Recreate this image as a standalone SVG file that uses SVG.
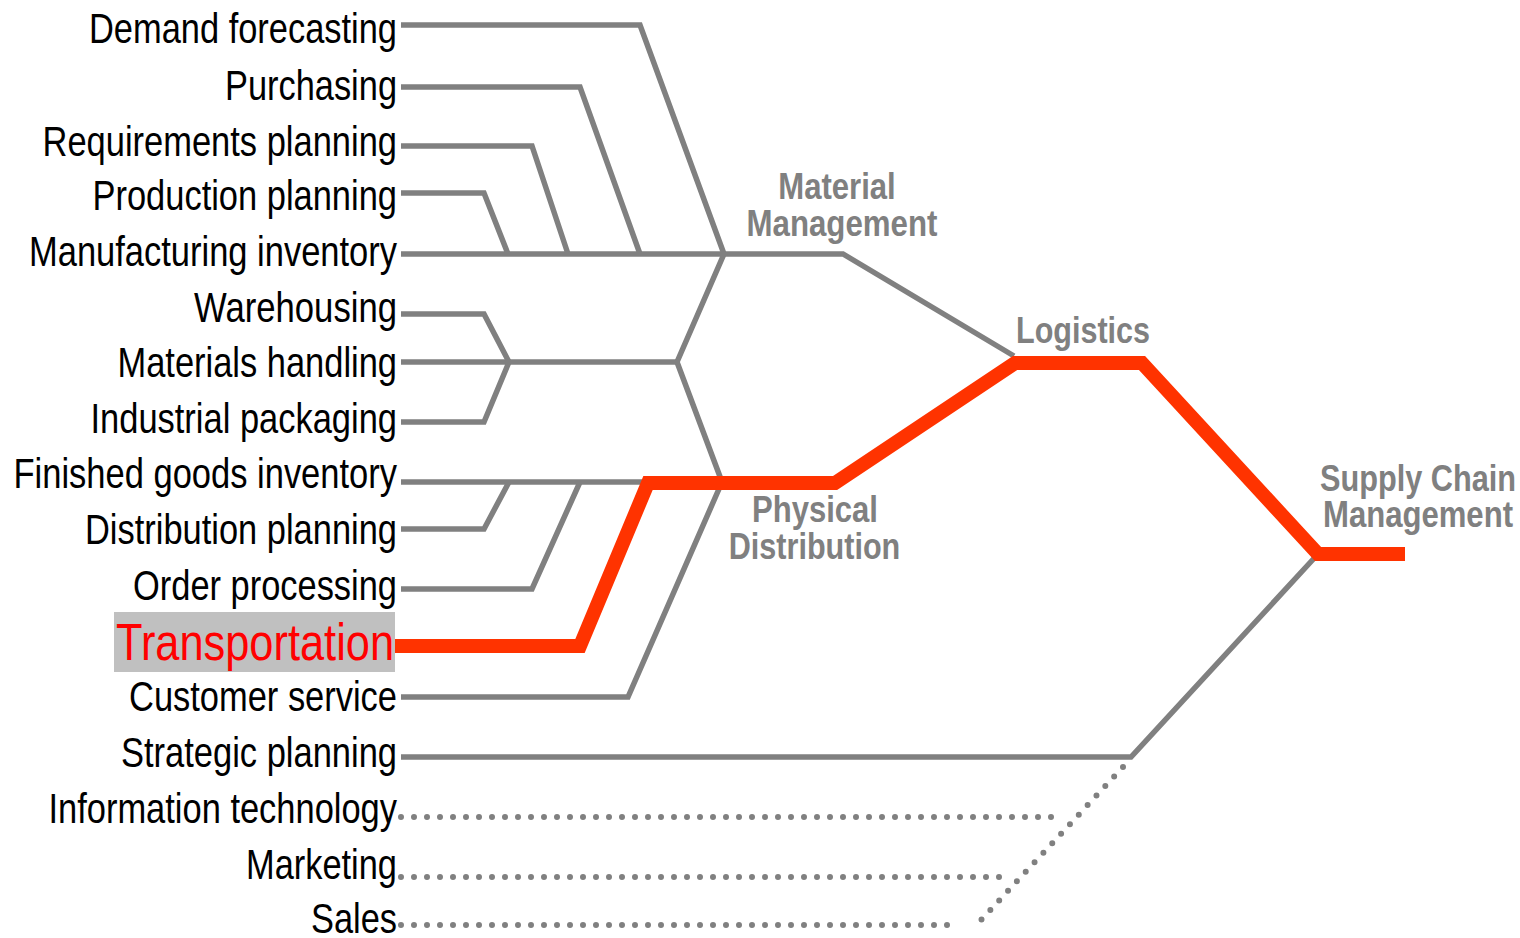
<svg xmlns="http://www.w3.org/2000/svg" width="1520" height="938" viewBox="0 0 1520 938">
<style>
.lbl{font-family:"Liberation Sans Narrow","Liberation Sans",Arial,sans-serif;font-size:42px;fill:#000;text-anchor:end}
.hl{font-size:52px;fill:#ff0000}
.mid{font-family:"Liberation Sans Narrow","Liberation Sans",Arial,sans-serif;font-size:37.5px;font-weight:bold;fill:#808080;text-anchor:middle}
.g{fill:none;stroke:#808080;stroke-width:5.5;stroke-linejoin:miter}
.d{fill:none;stroke:#808080;stroke-width:6;stroke-linecap:round;stroke-dasharray:0 13}
.r{fill:none;stroke:#ff3300;stroke-width:14;stroke-linejoin:miter}
</style>
<rect width="1520" height="938" fill="#fff"/>
<g id="connectors">
<path class="g" d="M401,25 H640 L724,254"/>
<path class="g" d="M401,87 H580 L640,254"/>
<path class="g" d="M401,146 H532 L568,254"/>
<path class="g" d="M401,193 H484 L508,254"/>
<path class="g" d="M401,254 H843 L1014,356"/>
<path class="g" d="M401,314 H484 L509,362"/>
<path class="g" d="M401,362 H677"/>
<path class="g" d="M401,422 H484 L509,362"/>
<path class="g" d="M724,254 L677,362 L722,482"/>
<path class="g" d="M401,482 H722"/>
<path class="g" d="M401,529 H484 L509,482"/>
<path class="g" d="M401,589 H532 L580,482"/>
<path class="g" d="M401,697 H628 L722,482"/>
<path class="g" d="M401,757 H1131 L1318,554"/>
<path class="d" d="M401,817 H1061"/>
<path class="d" d="M401,877 H1011"/>
<path class="d" d="M401,925 H958"/>
<path class="d" d="M1123,767 L981,920"/>
<path class="r" d="M395,646 H580 L648,483 H835 L1015,363 H1142 L1318,554 H1405"/>
</g>
<g id="demand-forecasting"><text class="lbl" x="397" y="43" textLength="308" lengthAdjust="spacingAndGlyphs">Demand forecasting</text></g>
<g id="purchasing"><text class="lbl" x="397" y="100" textLength="172" lengthAdjust="spacingAndGlyphs">Purchasing</text></g>
<g id="requirements-planning"><text class="lbl" x="397" y="156" textLength="354.5" lengthAdjust="spacingAndGlyphs">Requirements planning</text></g>
<g id="production-planning"><text class="lbl" x="397" y="210" textLength="304.5" lengthAdjust="spacingAndGlyphs">Production planning</text></g>
<g id="manufacturing-inventory"><text class="lbl" x="397" y="266" textLength="368" lengthAdjust="spacingAndGlyphs">Manufacturing inventory</text></g>
<g id="warehousing"><text class="lbl" x="397" y="322" textLength="203" lengthAdjust="spacingAndGlyphs">Warehousing</text></g>
<g id="materials-handling"><text class="lbl" x="397" y="377" textLength="279.5" lengthAdjust="spacingAndGlyphs">Materials handling</text></g>
<g id="industrial-packaging"><text class="lbl" x="397" y="433" textLength="306.5" lengthAdjust="spacingAndGlyphs">Industrial packaging</text></g>
<g id="finished-goods-inventory"><text class="lbl" x="397" y="488" textLength="383.5" lengthAdjust="spacingAndGlyphs">Finished goods inventory</text></g>
<g id="distribution-planning"><text class="lbl" x="397" y="544" textLength="312" lengthAdjust="spacingAndGlyphs">Distribution planning</text></g>
<g id="order-processing"><text class="lbl" x="397" y="600" textLength="264" lengthAdjust="spacingAndGlyphs">Order processing</text></g>
<g id="transportation"><rect x="114" y="612" width="281" height="60" fill="#c0c0c0"/><text class="lbl hl" x="394" y="660" textLength="278" lengthAdjust="spacingAndGlyphs">Transportation</text></g>
<g id="customer-service"><text class="lbl" x="397" y="711" textLength="268" lengthAdjust="spacingAndGlyphs">Customer service</text></g>
<g id="strategic-planning"><text class="lbl" x="397" y="767" textLength="276" lengthAdjust="spacingAndGlyphs">Strategic planning</text></g>
<g id="information-technology"><text class="lbl" x="397" y="823" textLength="348.5" lengthAdjust="spacingAndGlyphs">Information technology</text></g>
<g id="marketing"><text class="lbl" x="397" y="879" textLength="151" lengthAdjust="spacingAndGlyphs">Marketing</text></g>
<g id="sales"><text class="lbl" x="397" y="933" textLength="86" lengthAdjust="spacingAndGlyphs">Sales</text></g>
<g id="material-management"><text class="mid" x="837" y="199" textLength="117.5" lengthAdjust="spacingAndGlyphs">Material</text><text class="mid" x="842" y="236" textLength="191" lengthAdjust="spacingAndGlyphs">Management</text></g>
<g id="logistics"><text class="mid" x="1083" y="343" textLength="134" lengthAdjust="spacingAndGlyphs">Logistics</text></g>
<g id="physical-distribution"><text class="mid" x="815" y="522" textLength="126" lengthAdjust="spacingAndGlyphs">Physical</text><text class="mid" x="814.5" y="559" textLength="171.5" lengthAdjust="spacingAndGlyphs">Distribution</text></g>
<g id="supply-chain-management"><text class="mid" x="1418" y="491" textLength="196" lengthAdjust="spacingAndGlyphs">Supply Chain</text><text class="mid" x="1418" y="527" textLength="190" lengthAdjust="spacingAndGlyphs">Management</text></g>
</svg>
